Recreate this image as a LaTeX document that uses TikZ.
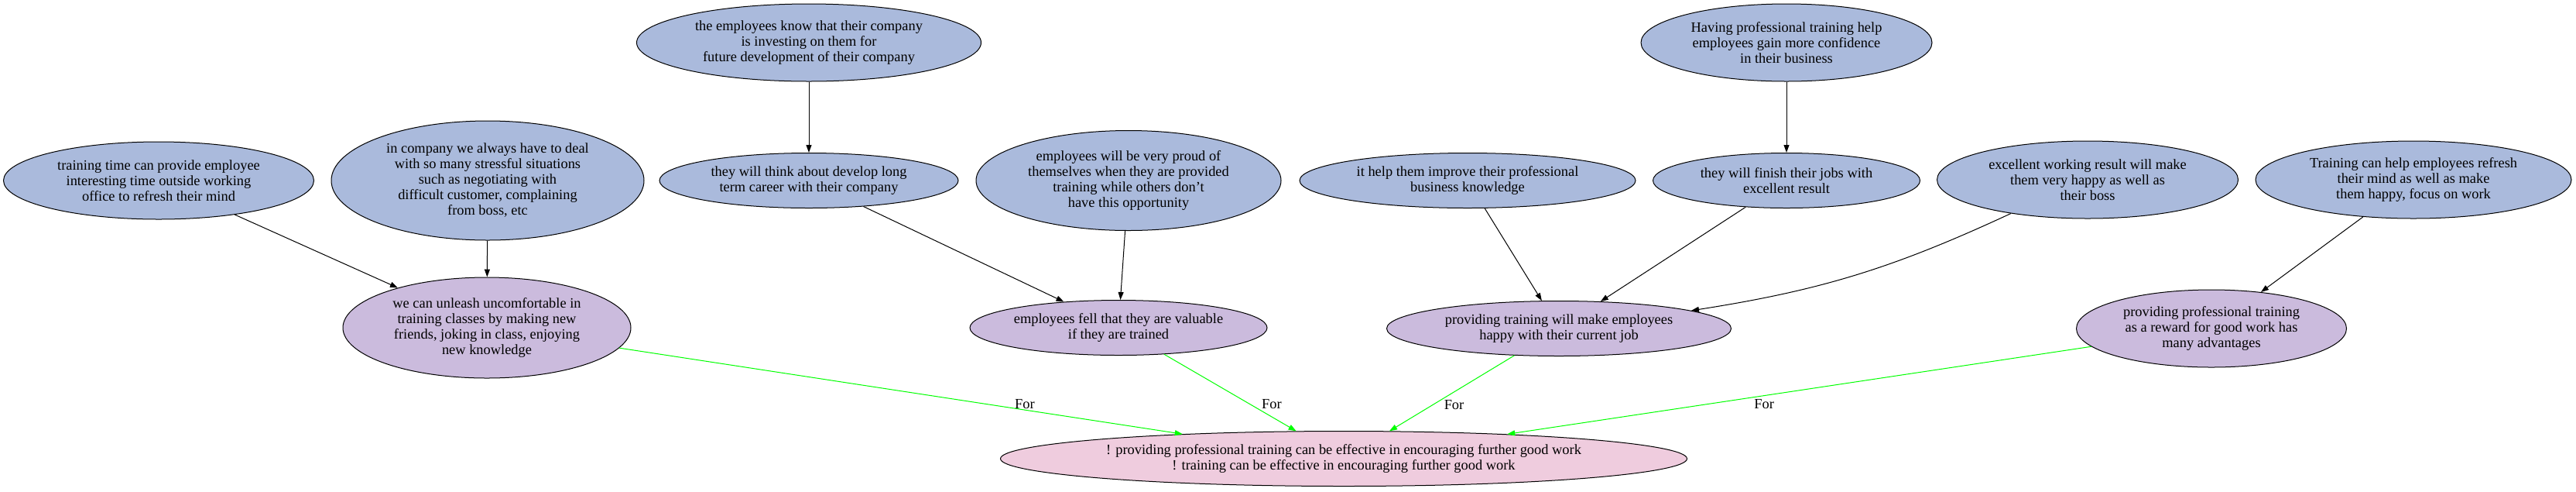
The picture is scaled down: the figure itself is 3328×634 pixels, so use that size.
\documentclass[tikz,border=0pt]{standalone}
\usepackage{fontspec}
\setmainfont{Liberation Serif}
\usepackage{tikz}
\usetikzlibrary{shapes.geometric,arrows.meta}
\definecolor{premfill}{RGB}{170,186,220}
\definecolor{profill}{RGB}{203,187,221}
\definecolor{claimfill}{RGB}{239,204,222}
\definecolor{forgreen}{RGB}{0,255,0}
\tikzset{
    every node/.style={ellipse, draw, line width=0.5pt, inner sep=0pt,
    	align=center, font=\fontsize{9.2}{10}\selectfont}
}
\tikzset{
    dims/.style 2 args={minimum width=#1*0.5pt, minimum height=#2*0.5pt},
    premise/.style={fill=premfill},
    pro/.style={fill=profill},
    claim/.style={fill=claimfill},
    forlbl/.style={draw=none, fill=none, rectangle, inner sep=0pt, text=black},
    support/.style={color=forgreen}
}
\tikzset{
    every edge/.append style={line width=0.5pt,
    	-{Triangle[length=5pt,width=3.5pt]}}
}

\begin{document}
\begin{tikzpicture}[x=0.5pt,y=-0.5pt]
	\useasboundingbox[fill=white] (0,0) rectangle (3328,634);
	\node (1) [premise, dims={445}{100}] at (1045,55) {the employees know that their company\\is investing on them for\\future development of their company};
	\node (2) [premise, dims={376}{100}] at (2308,55) {Having professional training help\\employees gain more confidence\\in their business};
	\node (3) [premise, dims={401}{100}] at (205,233) {training time can provide employee\\interesting time outside working\\office to refresh their mind};
	\node (4) [premise, dims={404}{154}] at (630,233) {in company we always have to deal\\with so many stressful situations\\such as negotiating with\\difficult customer, complaining\\from boss, etc};
	\node (5) [premise, dims={386}{71}] at (1045,233) {they will think about develop long\\term career with their company};
	\node (6) [premise, dims={394}{129}] at (1458,233) {employees will be very proud of\\themselves when they are provided\\training while others don't\\have this opportunity};
	\node (7) [premise, dims={434}{71}] at (1896,233) {it help them improve their professional\\business knowledge};
	\node (8) [premise, dims={345}{71}] at (2308,233) {they will finish their jobs with\\excellent result};
	\node (9) [premise, dims={389}{100}] at (2697,232) {excellent working result will make\\them very happy as well as\\their boss};
	\node (10) [premise, dims={408}{100}] at (3118,232) {Training can help employees refresh\\their mind as well as make\\them happy, focus on work};
	\node (11) [pro, dims={372}{130}] at (629,423) {we can unleash uncomfortable in\\training classes by making new\\friends, joking in class, enjoying\\new knowledge};
	\node (12) [pro, dims={384}{71}] at (1445,423) {employees fell that they are valuable\\if they are trained};
	\node (13) [pro, dims={445}{71}] at (2014,424) {providing training will make employees\\happy with their current job};
	\node (14) [pro, dims={349}{100}] at (2857,424) {providing professional training\\as a reward for good work has\\many advantages};
	\node (15) [claim, dims={887}{71}] at (1736,592) {! providing professional training can be effective in encouraging further good work\\! training can be effective in encouraging further good work};
	
	\draw (1) edge (5); \draw (2) edge (8);
	\draw (3) edge (11); \draw (4) edge (11);
	\draw (5) edge (12); \draw (6) edge (12);
	\draw (7) edge (13); \draw (8) edge (13); \draw (9) edge[bend left=8] (13);
	\draw (10) edge (14);
	\draw[support] (11) edge node[forlbl, pos=0.72, yshift=4pt] {For} (15);
	\draw[support] (12) edge node[forlbl, pos=0.65, xshift=14pt] {For} (15);
	\draw[support] (13) edge node[forlbl, pos=0.65, xshift=13.5pt] {For} (15);
	\draw[support] (14) edge node[forlbl, pos=0.56, yshift=-5.5pt] {For} (15);
\end{tikzpicture}
\end{document}
